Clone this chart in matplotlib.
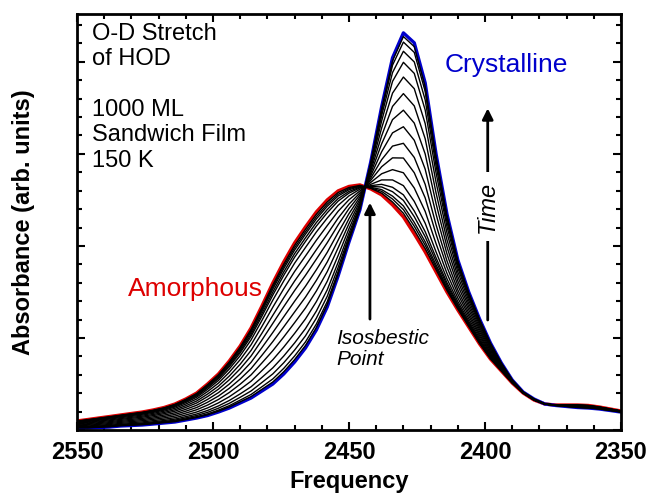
import numpy as np
import matplotlib.pyplot as plt
from matplotlib.ticker import MultipleLocator

plt.rcParams['font.family'] = ['Liberation Sans', 'DejaVu Sans']

# frequency grid (cm^-1), every 4 cm^-1
freq = [2550, 2546, 2542, 2538, 2534, 2530, 2526, 2522, 2518, 2514,
        2510, 2506, 2502, 2498, 2494, 2490, 2486, 2482, 2478, 2474,
        2470, 2466, 2462, 2458, 2454, 2450, 2446, 2442, 2438, 2434,
        2430, 2426, 2422, 2418, 2414, 2410, 2406, 2402, 2398, 2394,
        2390, 2386, 2382, 2378, 2374, 2370, 2366, 2362, 2358, 2354, 2350]

# amorphous spectrum (red)
amorphous = [0.0196, 0.0228, 0.0261, 0.0293, 0.0326, 0.0359, 0.0391, 0.0435, 0.0489, 0.0565,
             0.0674, 0.0804, 0.1000, 0.1217, 0.1500, 0.1826, 0.2217, 0.2696, 0.3196, 0.3652,
             0.4065, 0.4413, 0.4739, 0.5000, 0.5196, 0.5293, 0.5326, 0.5239, 0.5109, 0.4891,
             0.4630, 0.4261, 0.3870, 0.3435, 0.3000, 0.2609, 0.2239, 0.1870, 0.1543, 0.1283,
             0.1022, 0.0804, 0.0652, 0.0565, 0.0543, 0.0543, 0.0543, 0.0533, 0.0500, 0.0457, 0.0413]

# crystalline spectrum (blue)
crystalline = [0.0043, 0.0043, 0.0054, 0.0065, 0.0087, 0.0098, 0.0109, 0.0130, 0.0152, 0.0174,
               0.0217, 0.0261, 0.0315, 0.0391, 0.0478, 0.0587, 0.0696, 0.0848, 0.1000, 0.1217,
               0.1478, 0.1783, 0.2174, 0.2674, 0.3348, 0.4087, 0.4783, 0.5826, 0.7022, 0.8087,
               0.8630, 0.8413, 0.7543, 0.6000, 0.4696, 0.3696, 0.3000, 0.2413, 0.1891, 0.1457,
               0.1087, 0.0826, 0.0674, 0.0565, 0.0533, 0.0511, 0.0489, 0.0478, 0.0457, 0.0424, 0.0391]

# crystalline fraction of the intermediate spectra (read from peak heights)
mix_frac = [0.02, 0.04, 0.06, 0.09, 0.12, 0.17, 0.24, 0.32, 0.40,
            0.49, 0.58, 0.67, 0.76, 0.84, 0.90, 0.95, 0.98]

freq = np.array(freq)
amorphous = np.array(amorphous)
crystalline = np.array(crystalline)

fig = plt.figure(figsize=(6.49, 4.95), dpi=100)
ax = fig.add_axes([77/649, 65/495, 544/649, 416/495])

ax.plot(freq, amorphous, color='#dd0000', lw=2.4, zorder=2)
ax.plot(freq, crystalline, color='#0000cc', lw=2.4, zorder=2)
for f in mix_frac:
    ax.plot(freq, (1 - f) * amorphous + f * crystalline, color='black', lw=1.0, zorder=3)

ax.set_xlim(2550, 2350)
ax.set_ylim(0, 0.904)
ax.xaxis.set_major_locator(MultipleLocator(50))
ax.xaxis.set_minor_locator(MultipleLocator(10))
ax.yaxis.set_major_locator(MultipleLocator(0.2))
ax.yaxis.set_minor_locator(MultipleLocator(0.04))
ax.tick_params(which='both', direction='in', top=True, right=True, width=1.5,
               labelleft=False, labelsize=17, pad=8)
ax.tick_params(which='major', length=6)
ax.tick_params(which='minor', length=3.5)
for lbl in ax.get_xticklabels():
    lbl.set_fontweight('bold')
for sp in ax.spines.values():
    sp.set_linewidth(2)

ax.set_xlabel('Frequency', fontsize=17, fontweight='bold', labelpad=4)
ax.set_ylabel('Absorbance (arb. units)', fontsize=17, fontweight='bold', labelpad=30)

ax.text(2544.5, 0.885, 'O-D Stretch\nof HOD\n\n1000 ML\nSandwich Film\n150 K',
        fontsize=17, va='top', ha='left', linespacing=1.2)
ax.text(2531.3, 0.291, 'Amorphous', color='#dd0000', fontsize=19, va='baseline')
ax.text(2415, 0.778, 'Crystalline', color='#0000cc', fontsize=19, va='baseline')
ax.text(2454.8, 0.141, 'Isosbestic\nPoint', fontsize=15, style='italic',
        va='baseline', ha='left', linespacing=1.15)

# isosbestic arrow
ax.annotate('', xy=(2442.3, 0.50), xytext=(2442.3, 0.235),
            arrowprops=dict(arrowstyle='-|>', lw=2, color='black', mutation_scale=16))
# time arrow
ax.annotate('', xy=(2399, 0.705), xytext=(2399, 0.233),
            arrowprops=dict(arrowstyle='-|>', lw=2, color='black', mutation_scale=16))
ax.text(2399, 0.485, 'Time', rotation=90, fontsize=17, style='italic',
        ha='center', va='center', zorder=5,
        bbox=dict(facecolor='white', edgecolor='none', pad=6))

fig.savefig('out.png', dpi=100)
